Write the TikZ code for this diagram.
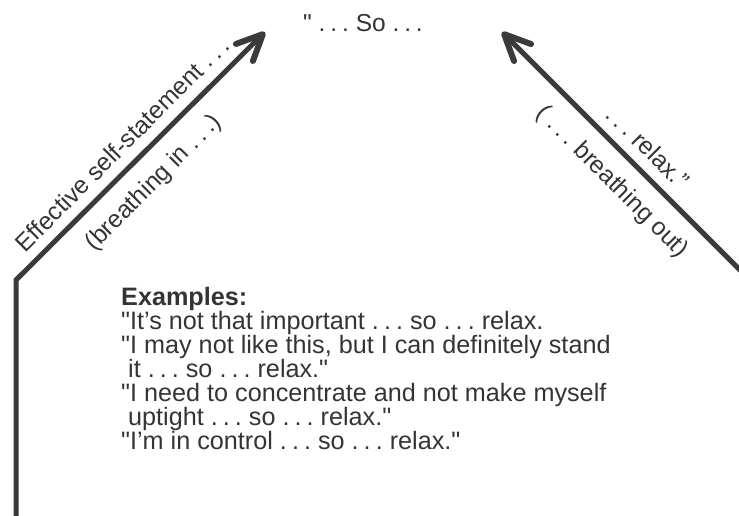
\documentclass[tikz,border=0pt]{standalone}
\usepackage{fontspec}
\setmainfont{Liberation Sans}[Ligatures=TeXOff]
\usetikzlibrary{arrows.meta}
\definecolor{ink}{RGB}{58,58,58}
\definecolor{txt}{RGB}{52,52,52}
\newcommand{\dd}{.\kern0.2em.\kern0.2em.}
\tikzset{
  arr/.style={draw=ink, line width=5pt, line join=miter,
    -{Straight Barb[length=26pt,width=24pt,round,line width=6pt]}},
  lbl/.style={text=txt, font=\fontsize{24.5}{26}\selectfont, inner sep=0pt, anchor=center},
}
\begin{document}
\begin{tikzpicture}[x=1pt,y=-1pt]
\useasboundingbox (0,0) rectangle (739,515);
% coordinates
\coordinate (lb) at (16,525);
\coordinate (lc) at (16,280);
\coordinate (lt) at (265,32);
\coordinate (rb) at (760,290);
\coordinate (rt) at (502,32);
% top text
\node[lbl, anchor=base] (so) at (363,31) {" \dd\ So \dd};
% arrows
\draw[arr] (lb) -- (lc) -- (lt);
\draw[arr] (rb) -- (rt);
% labels
\node[lbl, rotate=45] (eff) at (122,144) {Effective self-statement \dd};
\node[lbl, rotate=45] (bin) at (154,183) {(breathing in \dd)};
\node[lbl, rotate=-45] (rel) at (648,147) {\dd\ relax.”};
\node[lbl, rotate=-45] (bout) at (612,182) {( \dd\ breathing out)};
% examples (anchored at the baseline of the last line)
\node[lbl, anchor=base west, align=left, font=\fontsize{25.2}{24}\selectfont] (ex) at (121,449.6) {%
  \textbf{Examples:}\\
  "It’s not that important \dd\ so \dd\ relax.\\
  "I may not like this, but I can definitely stand\\
  \ it \dd\ so \dd\ relax."\\
  "I need to concentrate and not make myself\\
  \ uptight \dd\ so \dd\ relax."\\
  "I’m in control \dd\ so \dd\ relax."};
\end{tikzpicture}
\end{document}
